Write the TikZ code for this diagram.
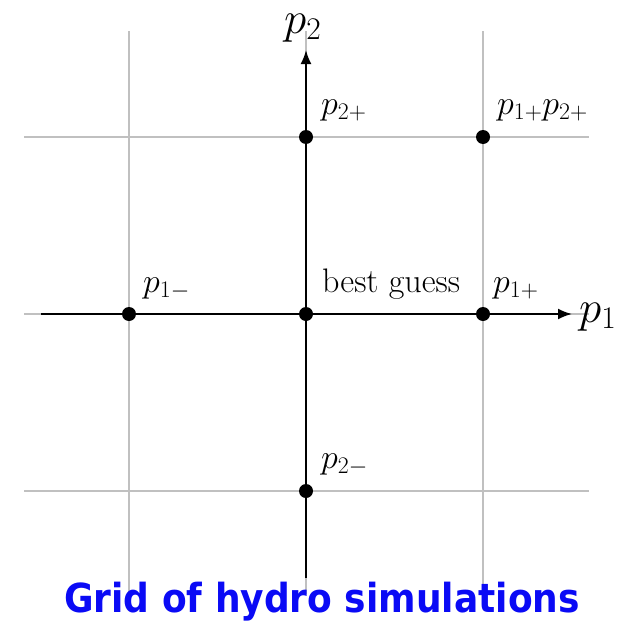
\RequirePackage{fix-cm}
\documentclass[tikz,border=0pt]{standalone}
\usepackage{fontspec}
\newfontfamily\titlefont{DejaVu Sans}
\usetikzlibrary{arrows.meta}
\definecolor{gridgray}{RGB}{192,192,192}
\definecolor{titleblue}{RGB}{10,10,245}
\tikzset{
  gridline/.style={draw=gridgray, line width=1.6pt},
  axisline/.style={draw=black, line width=2pt, -{Latex[length=14pt,width=11pt]}},
  pt/.style={circle, fill=black, inner sep=0pt, minimum size=14pt},
  lbl/.style={anchor=base west, inner sep=0pt, font=\fontsize{34}{38}\selectfont},
  axlbl/.style={anchor=base west, inner sep=0pt, font=\fontsize{45}{50}\selectfont},
}
\begin{document}
\begin{tikzpicture}[x=1pt, y=-1pt]
\useasboundingbox (0,0) rectangle (632,621);
% grid
\coordinate (hl1) at (24,137); \coordinate (hr1) at (589,137);
\coordinate (hl2) at (24,314); \coordinate (hr2) at (589,314);
\coordinate (hl3) at (24,491); \coordinate (hr3) at (589,491);
\coordinate (vt1) at (129,31); \coordinate (vb1) at (129,594);
\coordinate (vt2) at (306,31); \coordinate (vb2) at (306,594);
\coordinate (vt3) at (483,31); \coordinate (vb3) at (483,594);
\draw[gridline] (hl1) -- (hr1);
\draw[gridline] (hl2) -- (hr2);
\draw[gridline] (hl3) -- (hr3);
\draw[gridline] (vt1) -- (vb1);
\draw[gridline] (vt2) -- (vb2);
\draw[gridline] (vt3) -- (vb3);
% axes
\coordinate (xs) at (41,314); \coordinate (xe) at (572,314);
\coordinate (ys) at (306,578); \coordinate (ye) at (306,50);
\draw[axisline] (xs) -- (xe);
\draw[axisline] (ys) -- (ye);
% points
\node[pt] (c) at (306,314) {};
\node[pt] (m1) at (129,314) {};
\node[pt] (p1) at (483,314) {};
\node[pt] (p2) at (306,137) {};
\node[pt] (m2) at (306,491) {};
\node[pt] (pp) at (483,137) {};
% labels
\node[lbl] (lp2) at (321,114) {$p_{2+}$};
\node[lbl] (lpp) at (497,114) {$p_{1+}p_{2+}$};
\node[lbl] (lm1) at (143,292) {$p_{1-}$};
\node[lbl] (lc) at (322,292) {best guess};
\node[lbl] (lp1) at (493,292) {$p_{1+}$};
\node[lbl] (lm2) at (321,468) {$p_{2-}$};
\node[axlbl] (ax1) at (579,322) {$p_1$};
\node[axlbl] (ax2) at (284,33) {$p_2$};
% title
\node[anchor=base, inner sep=0pt, text=titleblue, font=\titlefont\bfseries\fontsize{40}{44}\selectfont] (title) at (322,612) {\scalebox{0.9}[1]{Grid of hydro simulations}};
\end{tikzpicture}
\end{document}
